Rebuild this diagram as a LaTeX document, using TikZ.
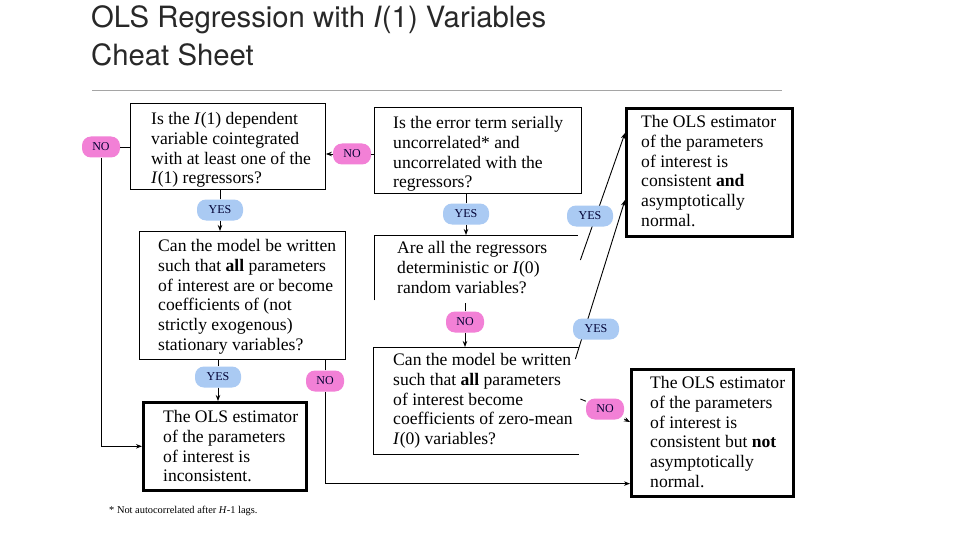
\documentclass[tikz,border=0pt]{standalone}
\usepackage{fontspec}
\setmainfont{Liberation Serif}
\newfontfamily\titlefont{TeX Gyre Heros}
\usetikzlibrary{arrows.meta,calc}
\definecolor{pinkpill}{RGB}{242,128,214}
\definecolor{bluepill}{RGB}{170,202,243}
\definecolor{rulegray}{RGB}{165,165,165}
\definecolor{titlegray}{RGB}{40,40,40}
\tikzset{
  qbox/.style={draw=black, line width=0.9pt, inner sep=0pt, anchor=north west},
  abox/.style={draw=black, line width=2.6pt, inner sep=0pt, anchor=north west},
  openbox/.style={inner sep=0pt, anchor=north west},
  txt/.style={anchor=north west, inner sep=0pt, align=left, font=\fontsize{17.6}{19.8}\selectfont},
  pill/.style={rounded corners=9pt, inner sep=0pt, minimum height=21pt, font=\fontsize{12}{12}\selectfont, text=black!80!blue},
  nopill/.style={pill, fill=pinkpill, minimum width=38pt},
  yespill/.style={pill, fill=bluepill, minimum width=46pt},
  conn/.style={line width=0.9pt},
  arr/.style={conn, -{Stealth[length=6pt,width=4.5pt]}},
}
\begin{document}
\begin{tikzpicture}[x=1pt,y=-1pt]
\fill[white] (0,0) rectangle (960,540);
\useasboundingbox (0,0) rectangle (960,540);
% title
\node[anchor=base west, inner sep=0pt, font=\titlefont\fontsize{29.3}{38}\selectfont, text=titlegray] (title1) at (91,28) {OLS Regression with \textit{I}(1) Variables};
\node[anchor=base west, inner sep=0pt, font=\titlefont\fontsize{29.3}{38}\selectfont, text=titlegray] (title2) at (91,66) {Cheat Sheet};
\coordinate (r1) at (92,91);
\coordinate (r2) at (782,91);
\draw[rulegray, line width=1pt] (r1) -- (r2);
% boxes
\node[qbox, minimum width=195pt, minimum height=86pt] (A) at (130,103) {};
\node[qbox, minimum width=207pt, minimum height=86pt] (B) at (374,107) {};
\node[abox, minimum width=166pt, minimum height=128pt] (C) at (625,107) {};
\node[qbox, minimum width=206pt, minimum height=128pt] (D) at (139,231) {};
\node[openbox, minimum width=204pt, minimum height=65pt] (E) at (374,235) {};
\node[openbox, minimum width=206pt, minimum height=107pt] (F) at (373,347) {};
\node[abox, minimum width=163pt, minimum height=88pt] (G) at (142,401) {};
\node[abox, minimum width=162pt, minimum height=127pt] (H) at (630,368) {};
\draw[conn] (E.south west) -- (E.north west) -- (E.north east);
\draw[conn] (F.north east) -- (F.north west) -- (F.south west) -- (F.south east);
% texts
\node[txt] (At) at (151,112) {Is the \textit{I}(1) dependent\\variable cointegrated\\with at least one of the\\\textit{I}(1) regressors?};
\node[txt] (Bt) at (393,116) {Is the error term serially\\uncorrelated* and\\uncorrelated with the\\regressors?};
\node[txt] (Ct) at (641,115) {The OLS estimator\\of the parameters\\of interest is\\consistent \textbf{and}\\asymptotically\\normal.};
\node[txt] (Dt) at (158,239) {Can the model be written\\such that \textbf{all} parameters\\of interest are or become\\coefficients of (not\\strictly exogenous)\\stationary variables?};
\node[txt] (Et) at (397,241) {Are all the regressors\\deterministic or \textit{I}(0)\\random variables?};
\node[txt] (Ft) at (393,353) {Can the model be written\\such that \textbf{all} parameters\\of interest become\\coefficients of zero-mean\\\textit{I}(0) variables?};
\node[txt] (Gt) at (163,410) {The OLS estimator\\of the parameters\\of interest is\\inconsistent.};
\node[txt] (Ht) at (650,376) {The OLS estimator\\of the parameters\\of interest is\\consistent but \textbf{not}\\asymptotically\\normal.};
% diagonal connectors (behind pills)
\coordinate (e3) at ($(E.north east)+(2,25)$);
\coordinate (c3) at ($(C.north west)+(0,26)$);
\coordinate (f4) at ($(F.north east)+(-4,12)$);
\coordinate (c4) at ($(C.north west)+(0,93)$);
\draw[arr] (e3) -- (c3);
\draw[arr] (f4) -- (c4);
% pills
\node[nopill] (NO1) at (101,147) {NO};
\node[nopill] (NO2) at (352,154) {NO};
\node[yespill] (YES1) at (220,210) {YES};
\node[yespill] (YES2) at (466,214) {YES};
\node[yespill] (YES3) at (590,216) {YES};
\node[nopill] (NO3) at (465,322) {NO};
\node[yespill] (YES4) at (596,329) {YES};
\node[yespill] (YES5) at (218,377) {YES};
\node[nopill] (NO4) at (325,381) {NO};
\node[nopill] (NO5) at (605,409) {NO};
% connectors
\draw[conn] (NO1.east) -- (NO1.east -| A.west);
\draw[arr] (NO1.south) |- (G.west);
\draw[conn] (NO2.east) -- (NO2.east -| B.west);
\draw[arr] (NO2.west) -- (NO2.west -| A.east);
\draw[conn] (YES1.north) -- (YES1.north |- A.south);
\draw[arr] (YES1.south) -- (YES1.south |- D.north);
\draw[conn] (YES2.north) -- (YES2.north |- B.south);
\draw[arr] (YES2.south) -- (YES2.south |- E.north);
\coordinate (e3b) at ($(NO3.north |- E.south)+(0,3)$);
\draw[conn] (NO3.north) -- (e3b);
\draw[arr] (NO3.south) -- (NO3.south |- F.north);
\draw[conn] (YES5.north) -- (YES5.north |- D.south);
\draw[arr] (YES5.south) -- (YES5.south |- G.north);
\draw[conn] (NO4.north) -- (NO4.north |- D.south);
\coordinate (h4) at ($(H.south west)+(0,-14)$);
\draw[arr] (NO4.south) |- (h4);
\coordinate (f5) at ($(F.north east)+(1,52)$);
\coordinate (h5) at ($(H.north west)+(0,54)$);
\draw[conn] (f5) -- (NO5);
\draw[arr] (NO5) -- (h5);
% footnote
\node[anchor=base west, inner sep=0pt, font=\fontsize{10.4}{12}\selectfont] (foot) at (109,513) {* Not autocorrelated after \textit{H}-1 lags.};
\end{tikzpicture}
\end{document}
